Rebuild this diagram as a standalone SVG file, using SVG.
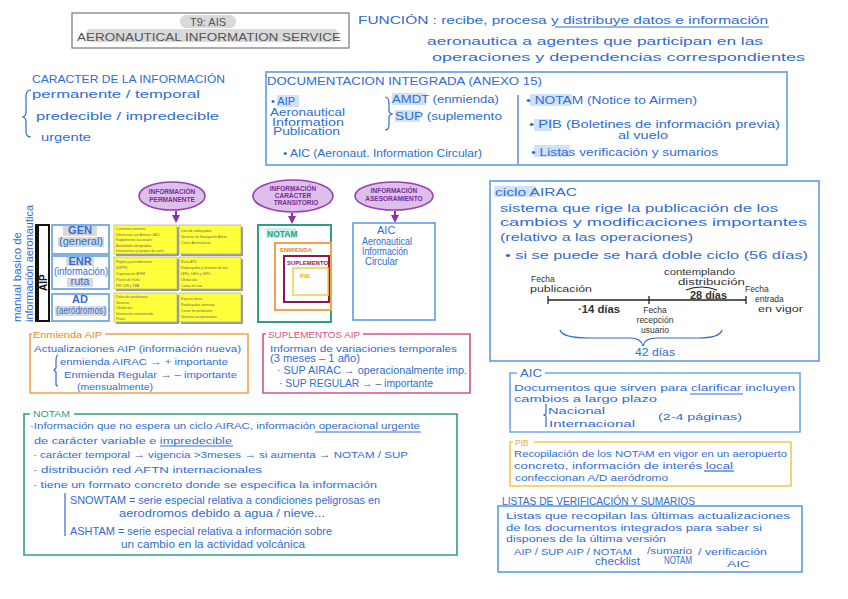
<svg xmlns="http://www.w3.org/2000/svg" width="848" height="599" viewBox="0 0 848 599">
<style>
.t{font-family:"Liberation Sans",Arial,sans-serif;fill:#2f6cd3;font-size:11px}
.s{font-size:9.5px}
.cap{font-size:10px}
.g{fill:#555}
.bx{fill:none;stroke:#6fa8e8;stroke-width:1.8}
.hl{fill:#cfe2f7}
.gh{fill:#d9d9d9}
.tiny{font-family:"Liberation Sans",Arial,sans-serif;font-size:3.3px;fill:#666}
.yl{fill:#ffff3a;stroke:#a0a0a0;stroke-width:0.6}
.ys{fill:#9a9a9a}
.ell{fill:#dcc0ea;stroke:#9b3fb5;stroke-width:1.6}
.pt{font-family:"Liberation Sans",Arial,sans-serif;font-size:6.5px;fill:#7a2a98;font-weight:bold}
.conn{stroke:#8a2fb0;stroke-width:2;fill:none}
.ln{stroke:#2f6cd3;stroke-width:1.2;fill:none}
</style>
<defs>
<marker id="ah" viewBox="0 0 10 10" refX="5" refY="5" markerWidth="4" markerHeight="4" orient="auto"><path d="M0,0 L10,5 L0,10 z" fill="#8a2fb0"/></marker>
</defs>
<rect width="848" height="599" fill="#fff"/>

<g id="title">
<rect x="72" y="13" width="277" height="35" fill="#fff" stroke="#777" stroke-width="1.2"/>
<rect x="180" y="15" width="56" height="13" rx="6" class="gh"/>
<rect x="86" y="29" width="252" height="13" rx="5" class="gh"/>
<text x="208" y="26" class="t g" font-size="12" text-anchor="middle">T9: AIS</text>
<text x="77" y="41" class="t g" font-size="12" textLength="264" lengthAdjust="spacingAndGlyphs">AERONAUTICAL INFORMATION SERVICE</text>
</g>

<g id="funcion">
<text x="358" y="24" class="t" font-size="12" textLength="410" lengthAdjust="spacingAndGlyphs">FUNCIÓN : recibe, procesa y distribuye datos e información</text>
<line x1="555" y1="27" x2="769" y2="27" class="ln"/>
<text x="427" y="45" class="t" font-size="12" textLength="336" lengthAdjust="spacingAndGlyphs">aeronautica a agentes que participan en las</text>
<text x="432" y="61" class="t" font-size="12" textLength="373" lengthAdjust="spacingAndGlyphs">operaciones y dependencias correspondientes</text>
</g>

<g id="caracter">
<text x="32" y="83" class="t cap" textLength="193" lengthAdjust="spacingAndGlyphs">CARACTER DE LA INFORMACIÓN</text>
<path d="M31,90 Q25,90 26,100 L26,112 Q26,116 23,117 Q26,118 26,122 L26,132 Q26,137 31,137" class="ln"/>
<text x="32" y="98" class="t" font-size="12" textLength="168" lengthAdjust="spacingAndGlyphs">permanente / temporal</text>
<text x="36" y="120" class="t" font-size="12" textLength="183" lengthAdjust="spacingAndGlyphs">predecible / impredecible</text>
<text x="41" y="141" class="t" font-size="12" textLength="50" lengthAdjust="spacingAndGlyphs">urgente</text>
</g>

<g id="documentacion">
<rect x="266" y="72" width="521" height="93" class="bx"/>
<text x="267" y="85" class="t" font-size="11" textLength="275" lengthAdjust="spacingAndGlyphs">DOCUMENTACION INTEGRADA (ANEXO 15)</text>
<rect x="277" y="95" width="22" height="12" class="hl"/>
<text x="271" y="105" class="t" font-size="11">• AIP</text>
<text x="270" y="116" class="t" font-size="8" textLength="75" lengthAdjust="spacingAndGlyphs">Aeronautical</text>
<text x="272" y="125.5" class="t" font-size="8" textLength="72" lengthAdjust="spacingAndGlyphs">Information</text>
<text x="273" y="135" class="t" font-size="8" textLength="67" lengthAdjust="spacingAndGlyphs">Publication</text>
<path d="M385,97 Q389,97 389,104 L389,111 Q389,113 392,114 Q389,115 389,117 L389,125 Q389,130 385,130" class="ln"/>
<rect x="392" y="93" width="34" height="12" class="hl"/>
<text x="392" y="103" class="t" textLength="107" lengthAdjust="spacingAndGlyphs">AMDT (enmienda)</text>
<rect x="395" y="110" width="25" height="12" class="hl"/>
<text x="395" y="120" class="t" textLength="107" lengthAdjust="spacingAndGlyphs">SUP (suplemento</text>
<text x="283" y="157" class="t" textLength="199" lengthAdjust="spacingAndGlyphs">• AIC (Aeronaut. Information Circular)</text>
<line x1="518" y1="95" x2="518" y2="164" class="ln"/>
<rect x="530" y="94" width="42" height="12" class="hl"/>
<text x="526" y="104" class="t" textLength="171" lengthAdjust="spacingAndGlyphs">• NOTAM (Notice to Airmen)</text>
<rect x="534" y="119" width="18" height="12" class="hl"/>
<text x="529" y="128" class="t" textLength="251" lengthAdjust="spacingAndGlyphs">• PIB (Boletines de información previa)</text>
<text x="618" y="139" class="t" font-size="8.5" textLength="50" lengthAdjust="spacingAndGlyphs">al vuelo</text>
<rect x="534" y="145" width="36" height="12" class="hl"/>
<text x="531" y="156" class="t" textLength="187" lengthAdjust="spacingAndGlyphs">• Listas verificación y sumarios</text>
</g>

<g id="manual">
<text transform="translate(21,322) rotate(-90)" class="t" font-size="10" textLength="90" lengthAdjust="spacingAndGlyphs">manual basico de</text>
<text transform="translate(33,322) rotate(-90)" class="t" font-size="10" textLength="117" lengthAdjust="spacingAndGlyphs">información aeronautica</text>
</g>

<g id="aip-bar">
<rect x="36" y="225" width="13" height="96" fill="#fff" stroke="#111" stroke-width="2"/>
<rect x="36" y="225" width="3" height="96" fill="#111"/>
<text transform="translate(47,291) rotate(-90)" font-family="Liberation Sans,Arial,sans-serif" font-size="10" font-weight="bold" fill="#111">AIP</text>
</g>

<g id="gen">
<rect x="52" y="225" width="57" height="29" class="bx"/>
<rect x="63" y="226" width="34" height="10" class="gh"/>
<text x="80" y="234" class="t" font-size="9" text-anchor="middle" font-weight="bold" fill="#3a62b0">GEN</text>
<rect x="58" y="237" width="46" height="10" class="gh"/>
<text x="81" y="245" class="t" font-size="9" text-anchor="middle">(general)</text>
</g>
<g id="enr">
<rect x="52" y="256" width="57" height="33" class="bx"/>
<rect x="66" y="257" width="28" height="9" class="gh"/>
<text x="80" y="265" class="t" font-size="9" text-anchor="middle" font-weight="bold" fill="#3a62b0">ENR</text>
<text x="54" y="275" class="t" font-size="9" textLength="54" lengthAdjust="spacingAndGlyphs">(información)</text>
<rect x="67" y="278" width="26" height="9" class="gh"/>
<text x="80" y="285" class="t" font-size="9" text-anchor="middle">ruta</text>
</g>
<g id="ad">
<rect x="52" y="294" width="57" height="27" class="bx"/>
<text x="80" y="303" class="t" font-size="9" text-anchor="middle" font-weight="bold" fill="#3a62b0">AD</text>
<rect x="55" y="306" width="52" height="10" class="gh"/>
<text x="81" y="314" class="t" font-size="9" text-anchor="middle" textLength="50" lengthAdjust="spacingAndGlyphs">(aeródromos)</text>
</g>

<g id="tabla">
<rect x="116" y="227" width="63" height="29" class="ys"/>
<rect x="181" y="227" width="62" height="29" class="ys"/>
<rect x="116" y="259" width="63" height="32" class="ys"/>
<rect x="181" y="259" width="62" height="32" class="ys"/>
<rect x="116" y="295" width="63" height="29" class="ys"/>
<rect x="181" y="295" width="62" height="29" class="ys"/>
<rect x="114" y="225" width="63" height="29" class="yl"/>
<rect x="179" y="225" width="62" height="29" class="yl"/>
<rect x="114" y="257" width="63" height="32" class="yl"/>
<rect x="179" y="257" width="62" height="32" class="yl"/>
<rect x="114" y="293" width="63" height="29" class="yl"/>
<rect x="179" y="293" width="62" height="29" class="yl"/>
<text class="tiny"><tspan x="116" y="230">Convenios suscritos</tspan><tspan x="116" y="235.5">Diferencias con Anexos OACI</tspan><tspan x="116" y="241">Reglamentos nacionales</tspan><tspan x="116" y="246.5">Autoridades designadas</tspan><tspan x="116" y="252">Instrumentos y equipos de vuelo</tspan></text>
<text class="tiny"><tspan x="181" y="232">Lista de radioayudas</tspan><tspan x="181" y="238">Servicios de Navegación Aérea</tspan><tspan x="181" y="244">Cartas Aeronáuticas</tspan></text>
<text class="tiny"><tspan x="116" y="263">Reglas y procedimientos</tspan><tspan x="116" y="269">SUPPS</tspan><tspan x="116" y="275">Organización ATFM</tspan><tspan x="116" y="281">Planes de Vuelo</tspan><tspan x="116" y="287">FIR, UIR y TMA</tspan></text>
<text class="tiny"><tspan x="181" y="263">Rutas ATS</tspan><tspan x="181" y="269">Radioayudas y sistemas de nav.</tspan><tspan x="181" y="275">LERs, LEDs y LEPs</tspan><tspan x="181" y="281">Obstáculos</tspan><tspan x="181" y="287">Cartas en ruta</tspan></text>
<text class="tiny"><tspan x="116" y="298">Datos de aeródromos</tspan><tspan x="116" y="303.5">Servicios</tspan><tspan x="116" y="309">Obstáculos</tspan><tspan x="116" y="314.5">Información suministrada</tspan><tspan x="116" y="320">Pistas</tspan></text>
<text class="tiny"><tspan x="181" y="300">Espacio aéreo</tspan><tspan x="181" y="306">Radioayudas aterrizaje</tspan><tspan x="181" y="312">Cartas de aeródromo</tspan><tspan x="181" y="318">Servicios aeroportuarios</tspan></text>
</g>

<g id="info-permanente">
<ellipse cx="172" cy="196" rx="33" ry="14" class="ell"/>
<text x="172" y="194" class="pt" text-anchor="middle">INFORMACIÓN</text>
<text x="172" y="202" class="pt" text-anchor="middle">PERMANENTE</text>
</g>
<g id="info-transitorio">
<ellipse cx="293" cy="196" rx="40" ry="16" class="ell"/>
<text x="293" y="191" class="pt" text-anchor="middle">INFORMACIÓN</text>
<text x="293" y="198" class="pt" text-anchor="middle">CARÁCTER</text>
<text x="296" y="205" class="pt" text-anchor="middle">TRANSITORIO</text>
</g>
<g id="info-asesoramiento">
<ellipse cx="394" cy="196" rx="39" ry="14" class="ell"/>
<text x="394" y="193" class="pt" text-anchor="middle">INFORMACIÓN</text>
<text x="394" y="201" class="pt" text-anchor="middle">ASESORAMIENTO</text>
</g>

<g id="connectors">
<line x1="176" y1="211" x2="176" y2="219" class="conn" marker-end="url(#ah)"/>
<line x1="292" y1="213" x2="292" y2="220" class="conn" marker-end="url(#ah)"/>
<line x1="395" y1="211" x2="395" y2="219" class="conn" marker-end="url(#ah)"/>
</g>

<g id="notam-diagrama">
<rect x="258" y="225" width="73" height="97" fill="none" stroke="#2e9e86" stroke-width="2"/>
<rect x="266" y="228" width="30" height="10" fill="#cfeee6"/>
<text x="267" y="237" font-family="Liberation Sans,Arial,sans-serif" font-size="8.5" font-weight="bold" fill="#2e9e86">NOTAM</text>
<rect x="275" y="243" width="56" height="67" fill="none" stroke="#f5a04a" stroke-width="2"/>
<text x="280" y="252" font-family="Liberation Sans,Arial,sans-serif" font-size="6" font-weight="bold" fill="#e8862a">ENMIENDA</text>
<rect x="284" y="256" width="45" height="46" fill="none" stroke="#8b1a4a" stroke-width="2"/>
<text x="287" y="265" font-family="Liberation Sans,Arial,sans-serif" font-size="6" font-weight="bold" fill="#8b1a4a" textLength="41" lengthAdjust="spacingAndGlyphs">SUPLEMENTO</text>
<rect x="293" y="268" width="35" height="27" fill="none" stroke="#f5d050" stroke-width="1.6"/>
<text x="300" y="278" font-family="Liberation Sans,Arial,sans-serif" font-size="6" font-weight="bold" fill="#e6b820">PIB</text>
</g>

<g id="aic-diagrama">
<rect x="353" y="223" width="82" height="97" class="bx"/>
<text x="377" y="234" class="t" font-size="9.5">AIC</text>
<text x="362" y="245" class="t" font-size="7.5" textLength="50" lengthAdjust="spacingAndGlyphs">Aeronautical</text>
<text x="362" y="255" class="t" font-size="7.5" textLength="46" lengthAdjust="spacingAndGlyphs">Información</text>
<text x="365" y="265" class="t" font-size="7.5" textLength="33" lengthAdjust="spacingAndGlyphs">Circular</text>
</g>

<g id="ciclo-airac">
<rect x="490" y="181" width="329" height="180" class="bx"/>
<rect x="494" y="186" width="42" height="11" class="hl"/>
<text x="495" y="196" class="t" textLength="82" lengthAdjust="spacingAndGlyphs">ciclo AIRAC</text>
<text x="500" y="212" class="t" font-size="12" textLength="278" lengthAdjust="spacingAndGlyphs">sistema que rige la publicación de los</text>
<text x="500" y="226" class="t" font-size="12" textLength="307" lengthAdjust="spacingAndGlyphs">cambios y modificaciones importantes</text>
<text x="500" y="241" class="t" font-size="12" textLength="193" lengthAdjust="spacingAndGlyphs">(relativo a las operaciones)</text>
<text x="505" y="259" class="t" font-size="12" textLength="303" lengthAdjust="spacingAndGlyphs">• si se puede se hará doble ciclo (56 días)</text>
<g fill="#333" font-family="Liberation Sans,Arial,sans-serif" font-size="8.5">
<line x1="548" y1="300" x2="746" y2="300" stroke="#222" stroke-width="1.3"/>
<line x1="548" y1="296" x2="548" y2="304" stroke="#222" stroke-width="1.3"/>
<line x1="649" y1="296" x2="649" y2="304" stroke="#222" stroke-width="1.3"/>
<line x1="746" y1="296" x2="746" y2="304" stroke="#222" stroke-width="1.3"/>
<text x="531" y="282">Fecha</text>
<text x="530" y="292" textLength="62" lengthAdjust="spacingAndGlyphs">publicación</text>
<text x="578" y="313" font-size="10" font-weight="bold" textLength="42" lengthAdjust="spacingAndGlyphs">·14 días</text>
<text x="655" y="313" text-anchor="middle">Fecha</text>
<text x="655" y="323" text-anchor="middle">recepción</text>
<text x="655" y="333" text-anchor="middle">usuario</text>
<text x="664" y="275" textLength="71" lengthAdjust="spacingAndGlyphs">contemplando</text>
<text x="678" y="285" textLength="67" lengthAdjust="spacingAndGlyphs">distribución</text>
<path d="M686,290 Q701,284 717,290" stroke="#222" stroke-width="1.2" fill="none"/>
<text x="690" y="299" font-size="10" font-weight="bold" textLength="37" lengthAdjust="spacingAndGlyphs">28 días</text>
<text x="745" y="292">Fecha</text>
<text x="755" y="302">entrada</text>
<text x="758" y="312" textLength="45" lengthAdjust="spacingAndGlyphs">en vigor</text>
</g>
<path d="M560,330 Q562,338 590,338 L630,338 Q641,338 643,346 Q645,338 656,338 L698,338 Q720,338 722,330" class="ln"/>
<text x="635" y="356" class="t" font-size="10" textLength="40" lengthAdjust="spacingAndGlyphs">42 días</text>
</g>

<g id="enmienda-aip">
<path d="M105,334 L248,334 L248,393 L30,393 L30,334 L32,334" fill="none" stroke="#f5a04a" stroke-width="1.6"/>
<text x="33" y="338" font-family="Liberation Sans,Arial,sans-serif" font-size="9.5" fill="#e8862a" textLength="69" lengthAdjust="spacingAndGlyphs">Enmienda AIP</text>
<text x="34" y="352" class="t s" textLength="207" lengthAdjust="spacingAndGlyphs">Actualizaciones AIP (información nueva)</text>
<path d="M58,355 Q56,355 56,362 L56,368 L54,370 L56,372 L56,384 Q56,386 58,386" class="ln"/>
<text x="60" y="365" class="t s" textLength="168" lengthAdjust="spacingAndGlyphs">enmienda AIRAC → + importante</text>
<text x="64" y="378" class="t s" textLength="173" lengthAdjust="spacingAndGlyphs">Enmienda Regular → – importante</text>
<text x="77" y="390" class="t s" textLength="76" lengthAdjust="spacingAndGlyphs">(mensualmente)</text>
</g>

<g id="suplementos-aip">
<path d="M363,334 L470,334 L470,393 L263,393 L263,334 L266,334" fill="none" stroke="#d9508a" stroke-width="1.6"/>
<text x="268" y="338" font-family="Liberation Sans,Arial,sans-serif" font-size="9.5" fill="#d9508a" textLength="92" lengthAdjust="spacingAndGlyphs">SUPLEMENTOS AIP</text>
<text x="270" y="352" class="t s" textLength="187" lengthAdjust="spacingAndGlyphs">Informan de variaciones temporales</text>
<text x="270" y="362" class="t" font-size="8.5" textLength="90" lengthAdjust="spacingAndGlyphs">(3 meses – 1 año)</text>
<text x="277" y="374" class="t" font-size="8.5" textLength="190" lengthAdjust="spacingAndGlyphs">· SUP AIRAC → operacionalmente imp.</text>
<text x="279" y="387" class="t" font-size="8.5" textLength="154" lengthAdjust="spacingAndGlyphs">· SUP REGULAR → – importante</text>
</g>

<g id="notam">
<path d="M74,414 L457,414 L457,555 L24,555 L24,414 L30,414" fill="none" stroke="#2e9e86" stroke-width="1.6"/>
<text x="33" y="417" font-family="Liberation Sans,Arial,sans-serif" font-size="9.5" fill="#2e9e86" textLength="37" lengthAdjust="spacingAndGlyphs">NOTAM</text>
<text x="30" y="429" class="t s" textLength="390" lengthAdjust="spacingAndGlyphs">·Información que no espera un ciclo AIRAC, información operacional urgente</text>
<line x1="315" y1="432" x2="421" y2="432" class="ln"/>
<text x="34" y="444" class="t s" textLength="198" lengthAdjust="spacingAndGlyphs">de carácter variable e impredecible</text>
<line x1="160" y1="446" x2="233" y2="446" class="ln"/>
<text x="33" y="458" class="t s" textLength="375" lengthAdjust="spacingAndGlyphs">· carácter temporal → vigencia &gt;3meses → si aumenta → NOTAM / SUP</text>
<text x="33" y="473" class="t s" textLength="229" lengthAdjust="spacingAndGlyphs">· distribución red AFTN internacionales</text>
<text x="33" y="488" class="t s" textLength="344" lengthAdjust="spacingAndGlyphs">· tiene un formato concreto donde se especifica la información</text>
<line x1="65" y1="493" x2="65" y2="536" class="ln"/>
<text x="70" y="504" class="t" font-size="9" textLength="310" lengthAdjust="spacingAndGlyphs">SNOWTAM = serie especial relativa a condiciones peligrosas en</text>
<text x="119" y="517" class="t" font-size="9" textLength="206" lengthAdjust="spacingAndGlyphs">aerodromos debido a agua / nieve...</text>
<text x="70" y="535" class="t" font-size="9" textLength="262" lengthAdjust="spacingAndGlyphs">ASHTAM = serie especial relativa a información sobre</text>
<text x="121" y="548" class="t" font-size="9" textLength="184" lengthAdjust="spacingAndGlyphs">un cambio en la actividad volcánica</text>
</g>

<g id="aic">
<path d="M545,373 L800,373 L800,432 L510,432 L510,373 L517,373" fill="none" stroke="#6fa8e8" stroke-width="1.6"/>
<text x="520" y="377" class="t" font-size="9" textLength="22" lengthAdjust="spacingAndGlyphs">AIC</text>
<text x="514" y="391" class="t s" textLength="281" lengthAdjust="spacingAndGlyphs">Documentos que sirven para clarificar incluyen</text>
<line x1="690" y1="394" x2="743" y2="394" class="ln"/>
<text x="514" y="402" class="t s" textLength="143" lengthAdjust="spacingAndGlyphs">cambios a largo plazo</text>
<path d="M546,404 L546,414 L544,415 L546,416 L546,427" class="ln"/>
<text x="548" y="414" class="t s" textLength="57" lengthAdjust="spacingAndGlyphs">Nacional</text>
<text x="549" y="427" class="t s" textLength="86" lengthAdjust="spacingAndGlyphs">Internacional</text>
<text x="658" y="420" class="t s" textLength="84" lengthAdjust="spacingAndGlyphs">(2-4 páginas)</text>
</g>

<g id="pib">
<path d="M534,442 L791,442 L791,486 L510,486 L510,442 L513,442" fill="none" stroke="#f5c84a" stroke-width="1.6"/>
<text x="515" y="446" font-family="Liberation Sans,Arial,sans-serif" font-size="8.5" fill="#f0b020">PIB</text>
<text x="514" y="457" class="t s" textLength="273" lengthAdjust="spacingAndGlyphs">Recopilación de los NOTAM en vigor en un aeropuerto</text>
<text x="514" y="469" class="t s" textLength="219" lengthAdjust="spacingAndGlyphs">concreto, información de interés local</text>
<line x1="704" y1="471" x2="734" y2="471" class="ln"/>
<text x="515" y="481" class="t s" textLength="153" lengthAdjust="spacingAndGlyphs">confeccionan A/D aeródromo</text>
</g>

<g id="listas">
<text x="502" y="505" class="t" font-size="9" textLength="193" lengthAdjust="spacingAndGlyphs">LISTAS DE VERIFICACIÓN Y SUMARIOS</text>
<rect x="498" y="506" width="304" height="66" class="bx"/>
<text x="506" y="519" class="t s" textLength="284" lengthAdjust="spacingAndGlyphs">Listas que recopilan las últimas actualizaciones</text>
<text x="506" y="531" class="t s" textLength="256" lengthAdjust="spacingAndGlyphs">de los documentos integrados para saber si</text>
<text x="506" y="542" class="t s" textLength="160" lengthAdjust="spacingAndGlyphs">dispones de la última versión</text>
<text x="514" y="555" class="t s" textLength="118" lengthAdjust="spacingAndGlyphs">AIP / SUP AIP / NOTAM</text>
<text x="595" y="565" class="t" font-size="8.5" textLength="45" lengthAdjust="spacingAndGlyphs">checklist</text>
<text x="647" y="554" class="t s" textLength="45" lengthAdjust="spacingAndGlyphs">/sumario</text>
<text x="664" y="564" class="t" font-size="7.5" textLength="28" lengthAdjust="spacingAndGlyphs">NOTAM</text>
<text x="698" y="555" class="t s" textLength="69" lengthAdjust="spacingAndGlyphs">/ verificación</text>
<text x="727" y="567" class="t s" textLength="23" lengthAdjust="spacingAndGlyphs">AIC</text>
</g>
</svg>
